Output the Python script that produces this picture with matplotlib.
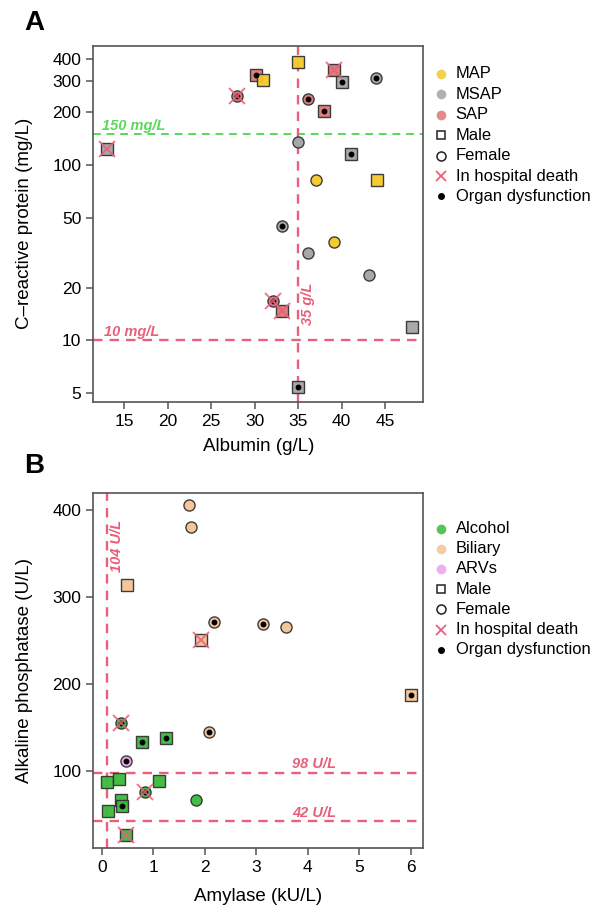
import matplotlib
matplotlib.use("Agg")
import matplotlib.pyplot as plt
from matplotlib.lines import Line2D
from matplotlib.ticker import FixedLocator, NullLocator, FixedFormatter

plt.rcParams['font.family'] = ['Liberation Sans', 'DejaVu Sans']

# ---------------- Panel A data ----------------
albumin = [35.0, 30.1, 31.0, 39.1, 40.1, 44.0, 28.0, 36.1, 38.0, 35.0, 13.0,
           41.1, 37.1, 44.1, 33.1, 39.1, 36.1, 43.1, 32.1, 33.1, 48.1, 35.0]
crp = [385, 327, 306, 348, 296, 312, 246, 237, 204, 136, 123,
       115, 82, 82, 45, 36.4, 31.3, 23.5, 16.8, 14.8, 11.9, 5.4]
severity = ['MAP', 'SAP', 'MAP', 'SAP', 'MSAP', 'MSAP', 'SAP', 'SAP', 'SAP', 'MSAP', 'MSAP',
            'MSAP', 'MAP', 'MAP', 'MSAP', 'MAP', 'MSAP', 'MSAP', 'SAP', 'SAP', 'MSAP', 'MSAP']
sex_a = ['M', 'M', 'M', 'M', 'M', 'F', 'F', 'F', 'M', 'F', 'M',
         'M', 'F', 'M', 'F', 'F', 'F', 'F', 'F', 'M', 'M', 'M']
death_a = [0, 0, 0, 1, 0, 0, 1, 0, 0, 0, 1, 0, 0, 0, 0, 0, 0, 0, 1, 1, 0, 0]
organ_a = [0, 1, 0, 0, 1, 1, 1, 1, 1, 0, 0, 1, 0, 0, 1, 0, 0, 0, 1, 0, 0, 1]

# ---------------- Panel B data ----------------
amylase = [1.69, 1.73, 0.50, 2.18, 3.13, 3.58, 1.93, 6.01, 0.37, 2.09, 0.79,
           1.25, 0.47, 0.10, 0.34, 1.11, 0.84, 1.82, 0.38, 0.40, 0.13, 0.47]
alp = [405, 380, 314, 271, 269, 265, 250, 187, 155, 145, 133,
       138, 111, 87, 91, 88, 75.5, 67, 66, 60, 54, 26]
etiology = ['Biliary', 'Biliary', 'Biliary', 'Biliary', 'Biliary', 'Biliary', 'Biliary',
            'Biliary', 'Alcohol', 'Biliary', 'Alcohol', 'Alcohol', 'ARVs', 'Alcohol',
            'Alcohol', 'Alcohol', 'Alcohol', 'Alcohol', 'Alcohol', 'Alcohol', 'Alcohol', 'Alcohol']
sex_b = ['F', 'F', 'M', 'F', 'F', 'F', 'M', 'M', 'F', 'F', 'M',
         'M', 'F', 'M', 'M', 'M', 'F', 'F', 'M', 'M', 'M', 'M']
death_b = [0, 0, 0, 0, 0, 0, 1, 0, 1, 0, 0, 0, 0, 0, 0, 0, 1, 0, 0, 0, 0, 1]
organ_b = [0, 0, 0, 1, 1, 0, 0, 1, 1, 1, 1, 1, 1, 0, 0, 0, 1, 0, 0, 1, 0, 0]

# thresholds
crp_hi, crp_lo, alb_cut = 150, 10, 35
alp_hi, alp_lo, amy_cut = 98, 42, 0.104

sev_colors = {'MAP': '#F4C928', 'MSAP': '#A4A4A4', 'SAP': '#DE7777'}
eti_colors = {'Alcohol': '#3BBA3B', 'Biliary': '#F4C495', 'ARVs': '#E9A3E9'}
red = '#E8607A'
green = '#5AD85A'

W, H = 592, 906
fig = plt.figure(figsize=(W / 100, H / 100), dpi=100)

def fx(px):
    return px / W

def fy(py):
    return 1 - py / H

axA = fig.add_axes([fx(93.3), fy(401.7), (423.3 - 93.3) / W, (401.7 - 46) / H])
axB = fig.add_axes([fx(93.3), fy(848.3), (423.3 - 93.3) / W, (848.3 - 493.3) / H])

def draw_points(ax, xs, ys, groups, colors, sexes, deaths, organs):
    for x, y, g, s, d, o in zip(xs, ys, groups, sexes, deaths, organs):
        m = 's' if s == 'M' else 'o'
        ax.plot([x], [y], marker=m, ms=8, mfc=colors[g], mec='#333333', mew=1.0,
                ls='none', zorder=3, alpha=0.95)
        if o:
            ax.plot([x], [y], marker='o', ms=3.2, color='black', ls='none', zorder=4)
        if d:
            ax.plot([x], [y], marker='x', ms=12, mew=1.4, color=red, ls='none',
                    zorder=5, alpha=0.85)

def style_axis(ax):
    for sp in ax.spines.values():
        sp.set_color('#555555')
        sp.set_linewidth(1.2)
    ax.tick_params(axis='both', which='major', colors='#555555', labelcolor='black',
                   length=5, width=1.1, labelsize=12.5, direction='out')

# ---------------- Panel A ----------------
axA.set_yscale('log')
axA.set_xlim(11.44, 49.4)
axA.set_ylim(4.48, 476)
draw_points(axA, albumin, crp, severity, sev_colors, sex_a, death_a, organ_a)
axA.axhline(crp_hi, color=green, ls=(0, (4, 3)), lw=1.4, zorder=2)
axA.axhline(crp_lo, color=red, ls=(0, (4, 3)), lw=1.7, zorder=2)
axA.axvline(alb_cut, color=red, ls=(0, (4, 3)), lw=1.7, zorder=2)
axA.text(12.4, crp_hi * 1.02, '150 mg/L', color=green, fontsize=10.5,
         style='italic', weight='bold', ha='left', va='bottom')
axA.text(12.7, crp_lo * 1.02, '10 mg/L', color=red, fontsize=10.5,
         style='italic', weight='bold', ha='left', va='bottom')
axA.text(35.35, 12.2, '35 g/L', color=red, fontsize=10.5, style='italic',
         weight='bold', rotation=90, ha='left', va='bottom')
yticksA = [5, 10, 20, 50, 100, 200, 300, 400]
axA.yaxis.set_major_locator(FixedLocator(yticksA))
axA.yaxis.set_major_formatter(FixedFormatter([str(v) for v in yticksA]))
axA.yaxis.set_minor_locator(NullLocator())
axA.set_xticks([15, 20, 25, 30, 35, 40, 45])
style_axis(axA)
axA.set_xlabel('Albumin (g/L)', fontsize=13.5, labelpad=7)
axA.set_ylabel('C–reactive protein (mg/L)', fontsize=13.5, labelpad=14)

# ---------------- Panel B ----------------
axB.set_xlim(-0.163, 6.24)
axB.set_ylim(11, 419)
draw_points(axB, amylase, alp, etiology, eti_colors, sex_b, death_b, organ_b)
axB.axhline(alp_hi, color=red, ls=(0, (4, 3)), lw=1.7, zorder=2)
axB.axhline(alp_lo, color=red, ls=(0, (4, 3)), lw=1.7, zorder=2)
axB.axvline(amy_cut, color=red, ls=(0, (4, 3)), lw=1.7, zorder=2)
axB.text(3.7, alp_hi + 2, '98 U/L', color=red, fontsize=10.5, style='italic',
         weight='bold', ha='left', va='bottom')
axB.text(3.7, alp_lo + 2, '42 U/L', color=red, fontsize=10.5, style='italic',
         weight='bold', ha='left', va='bottom')
axB.text(0.17, 329, '104 U/L', color=red, fontsize=10.5, style='italic',
         weight='bold', rotation=90, ha='left', va='bottom')
axB.set_yticks([100, 200, 300, 400])
axB.set_xticks([0, 1, 2, 3, 4, 5, 6])
style_axis(axB)
axB.set_xlabel('Amylase (kU/L)', fontsize=13.5, labelpad=9)
axB.set_ylabel('Alkaline phosphatase (U/L)', fontsize=13.5, labelpad=14)

# ---------------- Legends ----------------
legA_labels = ['MAP', 'MSAP', 'SAP', 'Male', 'Female', 'In hospital death', 'Organ dysfunction']
legB_labels = ['Alcohol', 'Biliary', 'ARVs', 'Male', 'Female', 'In hospital death', 'Organ dysfunction']

def legend_entry(kind, color, px, py):
    kw = dict(transform=fig.transFigure, ls='none')
    if kind == 'fill':
        art = Line2D([fx(px)], [fy(py)], marker='o', ms=7, mfc=color, mec='none', alpha=0.85, **kw)
    elif kind == 'male':
        art = Line2D([fx(px)], [fy(py)], marker='s', ms=6, mfc='white', mec='#222222', mew=1.1, **kw)
    elif kind == 'female':
        art = Line2D([fx(px)], [fy(py)], marker='o', ms=6.5, mfc='white', mec='#222222', mew=1.1, **kw)
    elif kind == 'death':
        art = Line2D([fx(px)], [fy(py)], marker='x', ms=7, mew=1.3, color=red, **kw)
    else:
        art = Line2D([fx(px)], [fy(py)], marker='o', ms=4, color='black', **kw)
    fig.add_artist(art)

def draw_legend(labels, colors, y0, dy):
    kinds = ['fill', 'fill', 'fill', 'male', 'female', 'death', 'organ']
    for i, (lab, kind) in enumerate(zip(labels, kinds)):
        py = y0 + i * dy
        col = colors[lab] if kind == 'fill' else None
        legend_entry(kind, col, 440.7, py)
        fig.text(fx(455.5), fy(py), lab, fontsize=11.9, ha='left', va='center')

draw_legend(legA_labels, sev_colors, 74, 20.4)
draw_legend(legB_labels, eti_colors, 528.5, 20.2)

fig.text(fx(34), fy(23), 'A', fontsize=20, weight='bold', ha='center', va='center')
fig.text(fx(34), fy(466), 'B', fontsize=20, weight='bold', ha='center', va='center')

fig.savefig('out.png', dpi=100)
